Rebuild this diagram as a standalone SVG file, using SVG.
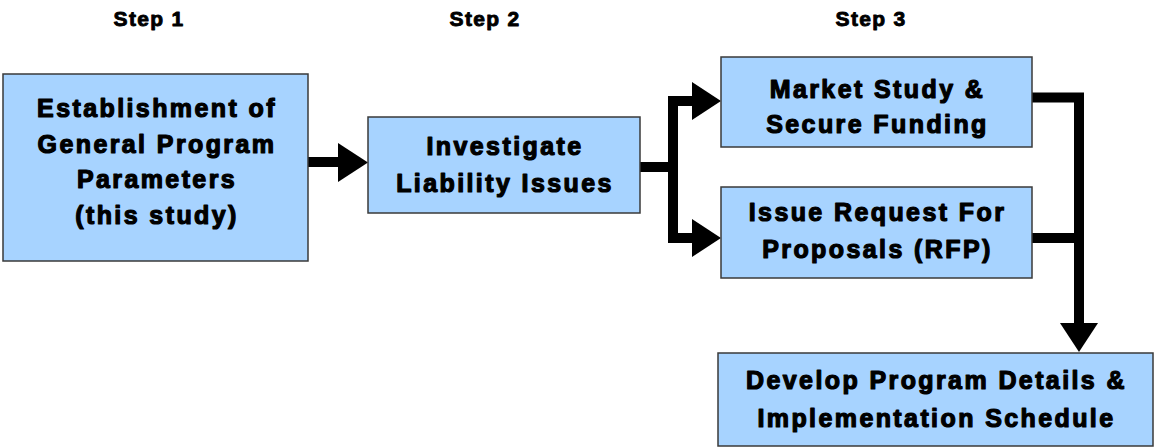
<svg xmlns="http://www.w3.org/2000/svg" width="1154" height="447" viewBox="0 0 1154 447">
<style>
.box{fill:#A7D3FF;stroke:#3a3a3a;stroke-width:1.5}
.t{font-family:"Liberation Sans",Arial,sans-serif;font-weight:bold;font-size:25px;letter-spacing:2.4px;text-anchor:middle;fill:#000;stroke:#000;stroke-width:1.2;stroke-linejoin:round}
.step{font-family:"Liberation Sans",Arial,sans-serif;font-weight:bold;font-size:21px;letter-spacing:1.3px;text-anchor:middle;fill:#000;stroke:#000;stroke-width:0.9;stroke-linejoin:round}
.ln{fill:none;stroke:#000;stroke-width:10}
.ah{fill:#000}
</style>
<rect width="1154" height="447" fill="#fff"/>
<g id="labels">
<text class="step" x="149" y="26">Step 1</text>
<text class="step" x="485" y="26">Step 2</text>
<text class="step" x="871" y="26">Step 3</text>
</g>
<g id="connectors">
<line class="ln" x1="308" y1="162" x2="340" y2="162"/>
<polygon class="ah" points="338,143 368,162.5 338,182"/>
<path class="ln" d="M640,167 H673 M673,96 V243 M668,101 H695 M668,238 H695"/>
<polygon class="ah" points="692,82 721,101 692,120"/>
<polygon class="ah" points="692,219 721,238 692,257"/>
<path class="ln" d="M1032,97.5 H1079 V325 M1032,238 H1079"/>
<polygon class="ah" points="1060,323 1098,323 1079,352"/>
</g>
<g id="n1">
<rect class="box" x="3" y="74" width="305" height="187"/>
<text class="t" x="157" y="117">Establishment of</text>
<text class="t" x="157" y="153">General Program</text>
<text class="t" x="157" y="188">Parameters</text>
<text class="t" x="157" y="224">(this study)</text>
</g>
<g id="n2">
<rect class="box" x="368" y="117" width="272" height="96"/>
<text class="t" x="505" y="155">Investigate</text>
<text class="t" x="505" y="192">Liability Issues</text>
</g>
<g id="n3">
<rect class="box" x="721" y="57" width="311" height="90"/>
<text class="t" x="877.5" y="98">Market Study &amp;</text>
<text class="t" x="877.5" y="133">Secure Funding</text>
</g>
<g id="n4">
<rect class="box" x="721" y="187" width="311" height="91"/>
<text class="t" x="877.5" y="221">Issue Request For</text>
<text class="t" x="877.5" y="258">Proposals (RFP)</text>
</g>
<g id="n5">
<rect class="box" x="718" y="353" width="435" height="93"/>
<text class="t" x="936.5" y="389">Develop Program Details &amp;</text>
<text class="t" x="936.5" y="427">Implementation Schedule</text>
</g>
</svg>
